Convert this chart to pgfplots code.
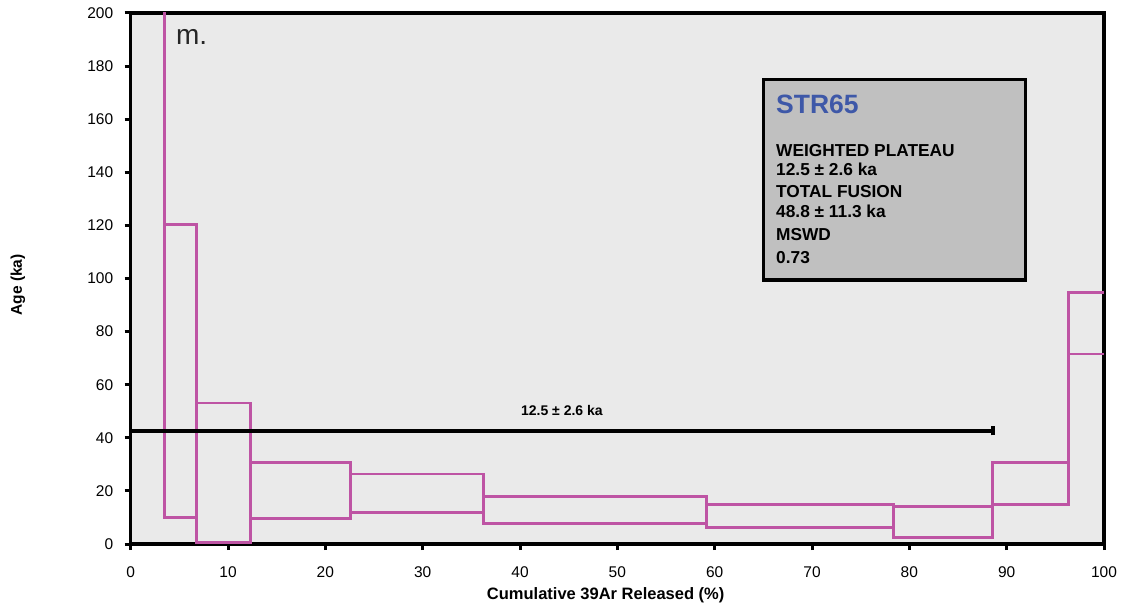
\documentclass[border=0pt]{standalone}
\usepackage{pgfplots}
\pgfplotsset{compat=1.18}
\usepackage{fontspec}
\setmainfont{Liberation Sans}
\definecolor{spec}{RGB}{190,84,164}
\definecolor{bggray}{RGB}{234,234,234}
\definecolor{boxgray}{RGB}{192,192,192}
\definecolor{strblue}{RGB}{62,88,168}
\begin{document}
\begin{tikzpicture}
\useasboundingbox (-130.7bp,-69bp) rectangle (996.3bp,544bp);
\begin{axis}[
  scale only axis,
  width=973.3bp, height=531bp,
  xmin=0, xmax=100, ymin=0, ymax=200,
  xtick={0,10,...,100}, ytick={0,20,...,200},
  xtick pos=left, ytick pos=left,
  tick align=outside,
  major tick length=6bp,
  tick style={black, line width=3bp},
  axis line style={black, line width=3.2bp},
  axis background/.style={fill=bggray},
  /pgf/number format/assume math mode=true,
  ticklabel style={font=\fontsize{15.5bp}{18bp}\selectfont, text=black},
  yticklabel style={xshift=-8bp},
  xticklabel style={yshift=-13bp},
  xlabel={\bfseries Cumulative 39Ar Released (\%)},
  ylabel={\bfseries Age (ka)},
  xlabel style={font=\fontsize{16.5bp}{19bp}\selectfont, at={(axis description cs:0.488,-0.1036)}, anchor=base},
  ylabel style={font=\fontsize{15.5bp}{18bp}\selectfont, at={(axis description cs:-0.1158,0.488)}, anchor=center, rotate=0},
  clip=true,
]
% spectrum steps
\addplot[spec, line width=2.8bp] coordinates {(3.46,9.9) (3.46,201)};
\addplot[spec, line width=2.8bp] coordinates {(3.46,9.9) (6.78,9.9) (6.78,120.4) (3.46,120.4)} -- cycle;
\addplot[spec, line width=2.8bp] coordinates {(6.78,0.6) (12.33,0.6) (12.33,53.1) (6.78,53.1)} -- cycle;
\addplot[spec, line width=2.8bp] coordinates {(12.33,9.7) (22.57,9.7) (22.57,30.8) (12.33,30.8)} -- cycle;
\addplot[spec, line width=2.8bp] coordinates {(22.57,12.0) (36.28,12.0) (36.28,26.4) (22.57,26.4)} -- cycle;
\addplot[spec, line width=2.8bp] coordinates {(36.28,7.8) (59.16,7.8) (59.16,17.9) (36.28,17.9)} -- cycle;
\addplot[spec, line width=2.8bp] coordinates {(59.16,6.3) (78.38,6.3) (78.38,14.8) (59.16,14.8)} -- cycle;
\addplot[spec, line width=2.8bp] coordinates {(78.38,2.3) (88.55,2.3) (88.55,14.2) (78.38,14.2)} -- cycle;
\addplot[spec, line width=2.8bp] coordinates {(88.55,14.8) (96.36,14.8) (96.36,30.8) (88.55,30.8)} -- cycle;
\addplot[spec, line width=2.8bp] coordinates {(100,71.6) (96.36,71.6) (96.36,94.8) (100,94.8)};
\addplot[spec, line width=2.8bp] coordinates {(96.36,14.8) (96.36,94.8)};
% plateau
\addplot[black, line width=4bp] coordinates {(0,42.6) (88.6,42.6)};
\addplot[black, line width=3.5bp] coordinates {(88.6,40.9) (88.6,44.3)};
\node[font=\fontsize{14bp}{16bp}\selectfont\bfseries] at (axis cs:44.3,50.3) {12.5 ± 2.6 ka};
% label
\node[anchor=base west, font=\fontsize{28bp}{32bp}\selectfont, text=black!85] at (axis cs:4.3,188) {m.};
% info box
\draw[black, line width=3.2bp, fill=boxgray] (axis cs:65,99.4) rectangle (axis cs:91.9,175);
\node[anchor=base west, inner sep=0pt, font=\fontsize{26.5bp}{30bp}\selectfont\bfseries, text=strblue] at (axis cs:66.3,162.2) {STR65};
\node[anchor=base west, inner sep=0pt, font=\fontsize{17.3bp}{20bp}\selectfont\bfseries] at (axis cs:66.3,145.9) {WEIGHTED PLATEAU};
\node[anchor=base west, inner sep=0pt, font=\fontsize{17.3bp}{20bp}\selectfont\bfseries] at (axis cs:66.3,138.9) {12.5 ± 2.6 ka};
\node[anchor=base west, inner sep=0pt, font=\fontsize{17.3bp}{20bp}\selectfont\bfseries] at (axis cs:66.3,130.4) {TOTAL FUSION};
\node[anchor=base west, inner sep=0pt, font=\fontsize{17.3bp}{20bp}\selectfont\bfseries] at (axis cs:66.3,123.1) {48.8 ± 11.3 ka};
\node[anchor=base west, inner sep=0pt, font=\fontsize{17.3bp}{20bp}\selectfont\bfseries] at (axis cs:66.3,114.5) {MSWD};
\node[anchor=base west, inner sep=0pt, font=\fontsize{17.3bp}{20bp}\selectfont\bfseries] at (axis cs:66.3,105.7) {0.73};
\end{axis}
\end{tikzpicture}
\end{document}
